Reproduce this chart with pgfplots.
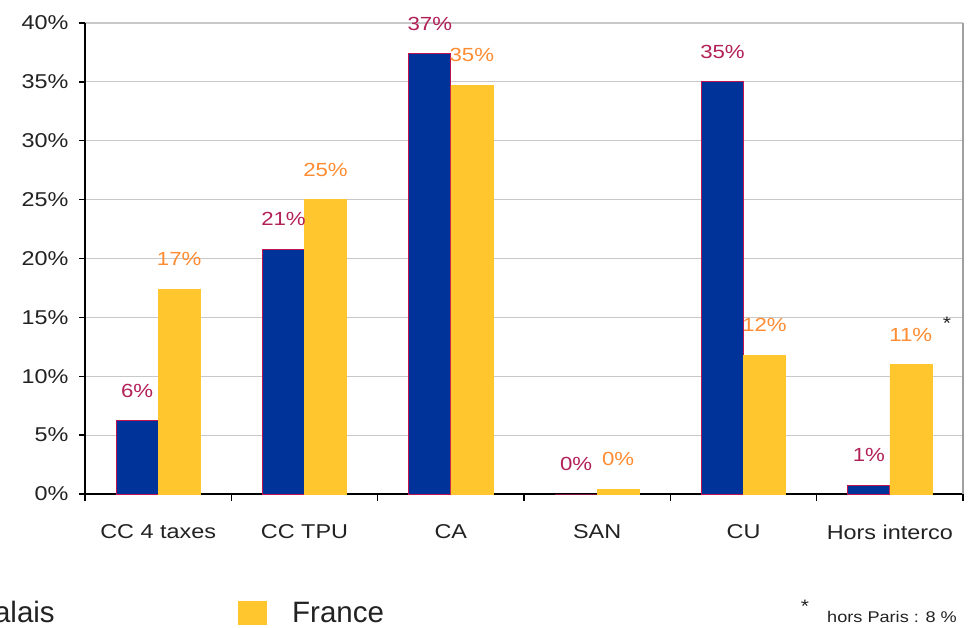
\documentclass[border=0pt]{standalone}
\usepackage{pgfplots}
\pgfplotsset{compat=1.18}
\usepackage{pgfplotstable}
\usepackage{fontspec}
\setmainfont{Liberation Sans}[FakeStretch=1.17]
\newfontfamily\legfont{Liberation Sans}
\definecolor{navy}{RGB}{0,51,153}
\definecolor{gold}{RGB}{255,198,46}
\definecolor{crim}{RGB}{192,20,80}
\definecolor{lblblue}{RGB}{178,32,88}
\definecolor{lblorange}{RGB}{255,140,50}
\definecolor{gridgray}{RGB}{200,200,200}
\definecolor{txt}{RGB}{34,34,34}

\pgfplotstableread{
x y label
0 6.2 6
1 20.8 21
2 37.4 37
3 0 0
4 35.0 35
5 0.75 1
}\nord
\pgfplotstableread{
x y label
0 17.4 17
1 25.0 25
2 34.7 35
3 0.4 0
4 11.8 12
5 11.0 11
}\france

\begin{document}
\begin{tikzpicture}
\begin{scope}
\clip (-85pt,-133pt) rectangle (891pt,494pt);
\begin{axis}[
  at={(0pt,0pt)}, anchor=south west,
  scale only axis, width=878pt, height=471pt,
  ybar=0pt, bar width=42pt,
  xmin=-0.5, xmax=5.5, ymin=0, ymax=40,
  axis x line*=bottom, axis y line*=left,
  axis line style={black, line width=1.3pt},
  xtick={0,...,5},
  xticklabels={CC 4 taxes, CC TPU, CA, SAN, CU, Hors interco},
  minor xtick={-0.5,0.5,...,5.5},
  major x tick style={draw=none},
  minor x tick style={black, line width=1.3pt},
  y tick style={black, line width=1.3pt},
  minor tick length=7pt, major tick length=6pt,
  tick align=outside,
  ytick={0,5,...,40},
  ymajorgrids,
  major grid style={gridgray, line width=1.2pt},
  yticklabel={\pgfmathprintnumber{\tick}\%},
  /pgf/number format/assume math mode=true,
  tick label style={font=\fontsize{20}{24}\selectfont, text=txt},
  x tick label style={yshift=-21pt},
  y tick label style={xshift=-7pt},
  nodes near coords={\pgfplotspointmeta\%},
  point meta=explicit symbolic,
  every node near coord/.append style={font=\fontsize{19}{22}\selectfont, anchor=center, yshift=30pt},
  clip=false,
]
\addplot[fill=navy, draw=crim, line width=1pt, every node near coord/.append style={text=lblblue}]
  table[x=x, y=y, meta=label] {\nord};
\addplot[fill=gold, draw=gold, line width=0.5pt, every node near coord/.append style={text=lblorange}]
  table[x=x, y=y, meta=label] {\france};
\draw[gridgray!80!black, line width=1.2pt] (rel axis cs:1,0) -- (rel axis cs:1,1);
\end{axis}
\node[txt, font=\fontsize{18}{20}\selectfont] at (862pt,171pt) {*};
\node[txt, anchor=base, inner sep=0pt, font=\fontsize{18}{20}\selectfont] at (720pt,-118pt) {*};
\node[txt, anchor=base west, inner sep=0pt, font=\fontsize{15.5}{18}\selectfont] at (742pt,-128pt) {hors Paris : 8 \%};
\fill[navy] (-300pt,-131pt) rectangle (-271pt,-107pt);
\node[txt, anchor=base east, inner sep=0pt] at (-30pt,-128pt) {\legfont\fontsize{29.5}{32}\selectfont Nord-Pas-de-Calais};
\fill[gold] (153pt,-131pt) rectangle (182pt,-107pt);
\node[txt, anchor=base west, inner sep=0pt] at (207pt,-128pt) {\legfont\fontsize{29.5}{32}\selectfont France};
\end{scope}
\pgfresetboundingbox
\useasboundingbox (-85pt,-133pt) rectangle (891pt,494pt);
\end{tikzpicture}
\end{document}
